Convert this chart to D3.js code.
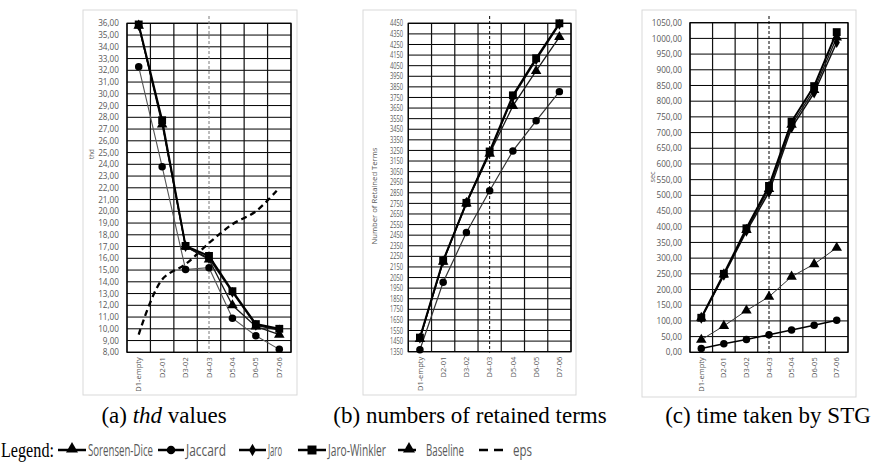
<!DOCTYPE html>
<html><head><meta charset="utf-8">
<script src="https://cdn.jsdelivr.net/npm/d3@7"></script>
<style>
html,body{margin:0;padding:0;background:#fff;}
svg{display:block;}
</style></head>
<body>
<svg id="chart" width="883" height="465"></svg>
<script>
// ---------- data ----------
const categories = ["D1-empty","D2-01","D3-02","D4-03","D5-04","D6-05","D7-06"];

// (a) thd values
const thdSorensen    = [35.8, 27.4, 17.0, 15.9, 12.0, 10.2, 9.5];
const thdJaccard     = [32.3, 23.8, 15.05, 15.2, 10.9, 9.4, 8.25];
const thdJaro        = [35.8, 27.6, 17.0, 16.0, 13.1, 10.3, 9.9];
const thdJaroWinkler = [35.9, 27.75, 17.05, 16.2, 13.2, 10.4, 10.0];
const thdEps         = [9.5, 14.2, 15.5, 17.3, 18.9, 20.0, 22.0];

// (b) numbers of retained terms
const termsSorensen    = [1470, 2200, 2750, 3220, 3670, 4000, 4320];
const termsJaccard     = [1368, 2005, 2475, 2870, 3245, 3530, 3805];
const termsJaro        = [1478, 2205, 2760, 3230, 3755, 4105, 4440];
const termsJaroWinkler = [1483, 2210, 2755, 3240, 3770, 4120, 4450];

// (c) time taken by STG (sec)
const timeSorensen    = [110, 248, 390, 520, 725, 836, 1003];
const timeJaccard     = [12, 27, 41, 56, 71, 86, 102];
const timeJaro        = [108, 245, 385, 510, 715, 826, 987];
const timeJaroWinkler = [110, 250, 395, 530, 735, 848, 1020];
const timeBaseline    = [40, 84, 133, 177, 241, 281, 333];

// axis ticks
const thdTicks   = d3.range(8, 36.001, 1);
const termsTicks = d3.range(1350, 4450.001, 100);
const timeTicks  = d3.range(0, 1050.001, 50);

const dividerCategory = "D4-03";

// legend entries
const legendNames = ["Sorensen-Dice","Jaccard","Jaro","Jaro-Winkler","Baseline","eps"];
const captions = [["(a) ","thd"," values"],["(b) numbers of retained terms","",""],["(c) time taken by STG","",""]];

// ---------- drawing ----------
const svg = d3.select("#chart");
const TXT = "#595959";
const comma2 = v => d3.format(".2f")(v).replace(".", ",");

const styles = {
  "Sorensen-Dice": {sym: d3.symbolTriangle, size: 48, w: 1.3, c: "#1a1a1a"},
  "Jaccard":       {sym: d3.symbolCircle,   size: 44, w: 1.2, c: "#4a4a4a"},
  "Jaro":          {sym: d3.symbolDiamond,  size: 34, w: 1.5, c: "#111"},
  "Jaro-Winkler":  {sym: d3.symbolSquare,   size: 62, w: 2.0, c: "#000"},
  "Baseline":      {sym: d3.symbolTriangle, size: 48, w: 1.0, c: "#333"},
};

const panels = [
  {left:127, right:291, top:23.3, bottom:352.3, domain:[8,36], ticks:thdTicks, fmt:comma2,
   squeeze:1.0, labelRight:119, title:"thd", titleX:91, titleY:154, titleLen:10,
   frame:[83,10,297,395], divColor:"#7a7a7a",
   series:[["Jaccard",thdJaccard,"#555",1.1],["Sorensen-Dice",thdSorensen],["Jaro",thdJaro],["Jaro-Winkler",thdJaroWinkler]],
   eps: thdEps},
  {left:408.3, right:571, top:23.3, bottom:351.7, domain:[1350,4450], ticks:termsTicks, fmt:d3.format("d"),
   squeeze:0.7, labelRight:403, title:"Number of Retained Terms", titleX:374, titleY:196, titleLen:97,
   frame:[363,10,576,395], divColor:"#000",
   series:[["Jaccard",termsJaccard,"#333",1.2],["Sorensen-Dice",termsSorensen],["Jaro",termsJaro],["Jaro-Winkler",termsJaroWinkler]]},
  {left:690, right:848, top:22.7, bottom:352.3, domain:[0,1050], ticks:timeTicks, fmt:comma2,
   squeeze:1.0, labelRight:682, title:"sec", titleX:652, titleY:177, titleLen:11,
   frame:[642,10,856,397], divColor:"#000",
   series:[["Jaccard",timeJaccard,"#000",1.5],["Baseline",timeBaseline],["Sorensen-Dice",timeSorensen],["Jaro",timeJaro],["Jaro-Winkler",timeJaroWinkler]]}
];

panels.forEach((p, pi) => {
  const g = svg.append("g");
  const [fx0, fy0, fx1, fy1] = p.frame;
  g.append("rect").attr("x", fx0).attr("y", fy0).attr("width", fx1 - fx0).attr("height", fy1 - fy0)
    .attr("fill", "none").attr("stroke", "#d9d9d9").attr("stroke-width", 1);

  const x = d3.scaleBand().domain(categories).range([p.left, p.right]).padding(0);
  const y = d3.scaleLinear().domain(p.domain).range([p.bottom, p.top]);
  const cx = c => x(c) + x.bandwidth() / 2;

  g.append("g").selectAll("line").data(p.ticks).join("line")
    .attr("x1", p.left).attr("x2", p.right).attr("y1", d => y(d)).attr("y2", d => y(d))
    .attr("stroke", "#000").attr("stroke-width", 1);
  const bounds = categories.map(c => x(c)).concat([p.right]);
  g.append("g").selectAll("line").data(bounds).join("line")
    .attr("x1", d => d).attr("x2", d => d).attr("y1", p.top).attr("y2", p.bottom)
    .attr("stroke", "#111").attr("stroke-width", 1.2);
  g.append("rect").attr("x", p.left).attr("y", p.top).attr("width", p.right - p.left).attr("height", p.bottom - p.top)
    .attr("fill", "none").attr("stroke", "#000").attr("stroke-width", 1.2);

  // y axis labels
  const yAxis = d3.axisLeft(y).tickValues(p.ticks).tickFormat(p.fmt).tickSize(0).tickPadding(0);
  const ya = g.append("g").attr("transform", `translate(${p.labelRight},0)`).call(yAxis);
  ya.select(".domain").remove();
  ya.selectAll("text").attr("fill", TXT).attr("font-family", "Open Sans, sans-serif").attr("font-size", 8.2)
    .attr("text-anchor", "start")
    .each(function() {
      const w = this.getComputedTextLength() * p.squeeze;
      d3.select(this).attr("x", -w).attr("textLength", w).attr("lengthAdjust", "spacingAndGlyphs");
    });

  // x axis labels (rotated)
  g.append("g").selectAll("text").data(categories).join("text")
    .attr("transform", d => `translate(${cx(d)},${p.bottom + 5}) rotate(-90)`)
    .attr("text-anchor", "end").attr("dy", "0.35em")
    .attr("fill", TXT).attr("font-family", "Open Sans, sans-serif").attr("font-size", 7.5)
    .text(d => d);

  g.append("text").attr("transform", `translate(${p.titleX},${p.titleY}) rotate(-90)`)
    .attr("text-anchor", "middle").attr("dy", "0.35em")
    .attr("fill", TXT).attr("font-family", "Open Sans, sans-serif").attr("font-size", 7.5)
    .attr("textLength", p.titleLen).attr("lengthAdjust", "spacingAndGlyphs")
    .text(p.title);

  g.append("line").attr("x1", cx(dividerCategory)).attr("x2", cx(dividerCategory))
    .attr("y1", 16).attr("y2", p.bottom + 1)
    .attr("stroke", p.divColor).attr("stroke-width", 1).attr("stroke-dasharray", "3,2");

  if (p.eps) {
    const line = d3.line().x((d, i) => cx(categories[i])).y(d => y(d)).curve(d3.curveCatmullRom.alpha(0.5));
    g.append("path").attr("d", line(p.eps)).attr("fill", "none")
      .attr("stroke", "#000").attr("stroke-width", 2.3).attr("stroke-dasharray", "6,4");
  }

  p.series.forEach(([name, vals, col, w]) => {
    const st = styles[name];
    const line = d3.line().x((d, i) => cx(categories[i])).y(d => y(d));
    g.append("path").attr("d", line(vals)).attr("fill", "none")
      .attr("stroke", col || st.c).attr("stroke-width", w || st.w);
    g.append("g").selectAll("path").data(vals).join("path")
      .attr("transform", (d, i) => `translate(${cx(categories[i])},${y(d)})`)
      .attr("d", d3.symbol().type(st.sym).size(st.size))
      .attr("fill", "#000");
  });
});

// captions
const capX = [164, 470, 768];
captions.forEach((parts, i) => {
  const t = svg.append("text").attr("x", capX[i]).attr("y", 423).attr("text-anchor", "middle")
    .attr("font-family", "Liberation Serif, Times New Roman, serif").attr("font-size", 23).attr("fill", "#000");
  t.append("tspan").text(parts[0]);
  if (parts[1]) t.append("tspan").attr("font-style", "italic").text(parts[1]);
  if (parts[2]) t.append("tspan").text(parts[2]);
});

// legend (horizontally condensed text via scale transforms)
const lg = svg.append("g");
const LY = 450;
function squeezedText(sel, x, y, target) {
  const w0 = sel.node().getComputedTextLength();
  sel.attr("transform", `translate(${x},${y}) scale(${target / w0},1)`);
}
const legTitle = lg.append("text").attr("font-family", "Liberation Serif, Times New Roman, serif")
  .attr("font-size", 20).attr("fill", "#000").text("Legend:");
squeezedText(legTitle, 1, LY + 7, 53);
const legendIcons = [[58, 86], [158, 184], [239, 266], [298, 326], [398, 420], [479, 506]];
const legendText  = [[88, 65], [186, 40], [268, 14], [328, 58], [426, 38], [513, 19]];
legendNames.forEach((name, i) => {
  const [a, b] = legendIcons[i];
  const dashed = name === "Baseline" || name === "eps";
  lg.append("line").attr("x1", a).attr("x2", b).attr("y1", LY).attr("y2", LY)
    .attr("stroke", "#000").attr("stroke-width", 2.5)
    .attr("stroke-dasharray", dashed ? (name === "eps" ? "9,6" : "7,4") : null);
  if (styles[name]) {
    lg.append("path").attr("transform", `translate(${(a + b) / 2},${LY - (styles[name].sym === d3.symbolTriangle ? 1 : 0)})`)
      .attr("d", d3.symbol().type(styles[name].sym).size(styles[name].size * 1.3)).attr("fill", "#000");
  }
  const t = lg.append("text")
    .attr("font-family", "Open Sans, sans-serif").attr("font-size", 16).attr("fill", TXT)
    .text(name);
  squeezedText(t, legendText[i][0], LY + 6, legendText[i][1]);
});
</script>
</body></html>
